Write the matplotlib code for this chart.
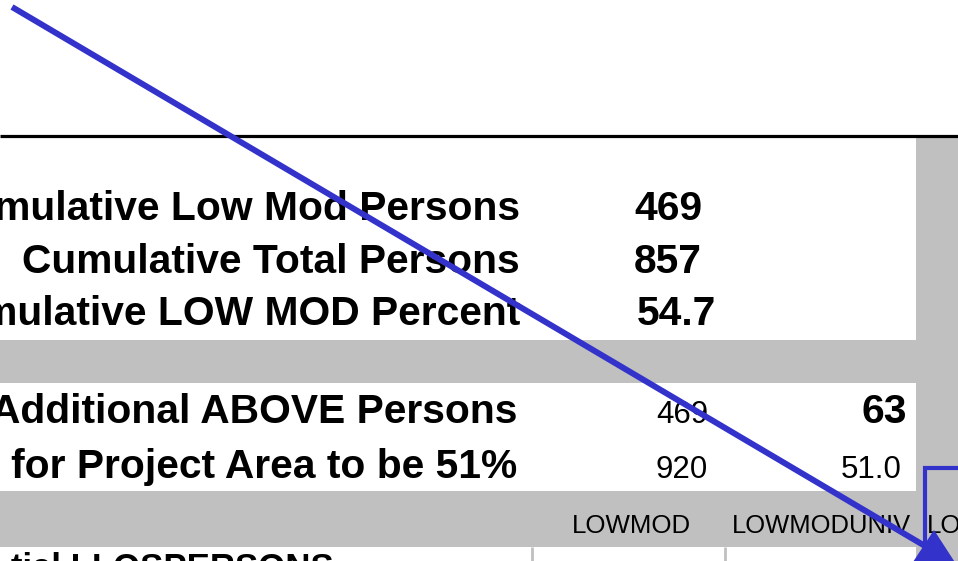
import matplotlib
matplotlib.use("Agg")
import matplotlib.pyplot as plt
from matplotlib.patches import Rectangle, Polygon

plt.rcParams['font.family'] = ['Liberation Sans', 'DejaVu Sans']

# ---- data ----
summary_labels = ["Cumulative Low Mod Persons", "Cumulative Total Persons", "Cumulative LOW MOD Percent"]
summary_values = ["469", "857", "54.7"]
needed_labels = ["Additional ABOVE Persons", "for Project Area to be 51%"]
needed_col1 = ["469", "920"]
needed_col2 = ["63", "51.0"]
needed_col2_bold = [True, False]
column_headers = ["LOWMOD", "LOWMODUNIV", "LO"]
bottom_label = "tial LLOSPERSONS"

W, H = 958, 561
fig = plt.figure(figsize=(W / 100, H / 100), dpi=100)
ax = fig.add_axes([0, 0, 1, 1])
ax.set_xlim(0, W)
ax.set_ylim(H, 0)
ax.axis('off')

GRAY = '#C0C0C0'
BLUE = '#3333CC'

# backgrounds
ax.add_patch(Rectangle((916, 136), W - 916, H - 136, color=GRAY, zorder=1, lw=0))
ax.add_patch(Rectangle((0, 340), W, 43, color=GRAY, zorder=1, lw=0))
ax.add_patch(Rectangle((0, 491), W, 56, color=GRAY, zorder=1, lw=0))
ax.plot([0, W], [135.5, 135.5], color='black', lw=2.3, zorder=3, solid_capstyle='butt')

# bottom row grid lines
for xv in [532, 725, 918]:
    ax.plot([xv, xv], [547, H], color=GRAY, lw=2, zorder=2, solid_capstyle='butt')

# summary box
label_fs = 29.3
for i, (lab, val) in enumerate(zip(summary_labels, summary_values)):
    yb = 220 + i * 52.5
    ax.text(520, yb, lab, ha='right', va='baseline', fontsize=label_fs, fontweight='bold', zorder=4)
    ax.text(634 if i < 2 else 637, yb, val, ha='left', va='baseline', fontsize=label_fs,
            fontweight='bold', zorder=4)

# needed box
for i, lab in enumerate(needed_labels):
    yb = 423 + i * 55
    ax.text(517, yb, lab, ha='right', va='baseline', fontsize=label_fs, fontweight='bold', zorder=4)
    ax.text(708, yb, needed_col1[i], ha='right', va='baseline', fontsize=22.5, zorder=4)
    if needed_col2_bold[i]:
        ax.text(907, yb, needed_col2[i], ha='right', va='baseline', fontsize=label_fs,
                fontweight='bold', zorder=4)
    else:
        ax.text(902, yb, needed_col2[i], ha='right', va='baseline', fontsize=22.5, zorder=4)

# column headers
ax.text(631, 533, column_headers[0], ha='center', va='baseline', fontsize=18.6, zorder=4)
ax.text(821, 533, column_headers[1], ha='center', va='baseline', fontsize=18.4, zorder=4)
ax.text(927, 533, column_headers[2], ha='left', va='baseline', fontsize=18.6, zorder=4)

# bottom partially visible text
ax.text(11, 578, bottom_label, ha='left', va='baseline', fontsize=25, fontweight='bold', zorder=4)

# blue rectangle outline (partially visible)
ax.plot([925, 925, W + 5], [H + 5, 468, 468], color=BLUE, lw=3, zorder=5, solid_joinstyle='miter')

# blue arrow
ax.plot([12, 925], [7, 546], color=BLUE, lw=4.3, zorder=6, solid_capstyle='butt')
ax.add_patch(Polygon([[958, 567], [934, 530], [911, 565]], closed=True, color=BLUE, zorder=6, lw=0))

fig.savefig('out.png', dpi=100)
